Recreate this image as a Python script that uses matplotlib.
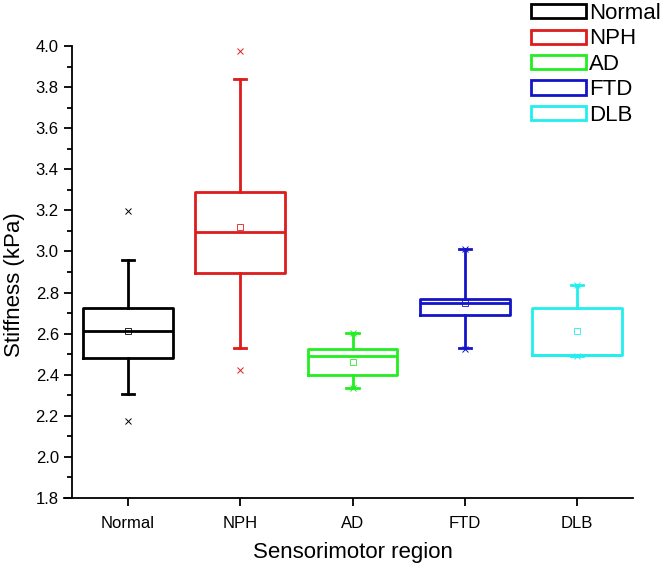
import matplotlib
matplotlib.use("Agg")
import matplotlib.pyplot as plt
from matplotlib.patches import Patch
from matplotlib.ticker import MultipleLocator

plt.rcParams['font.family'] = ['Liberation Sans', 'DejaVu Sans']

categories = ['Normal', 'NPH', 'AD', 'FTD', 'DLB']
colors = ['#000000', '#dd1c1c', '#22ee22', '#1414c8', '#22eeee']
q1 = [2.480, 2.897, 2.399, 2.691, 2.497]
med = [2.615, 3.095, 2.491, 2.748, 2.497]
q3 = [2.724, 3.291, 2.524, 2.767, 2.727]
whislo = [2.305, 2.532, 2.334, 2.529, 2.490]
whishi = [2.960, 3.838, 2.602, 3.012, 2.837]
means = [2.613, 3.119, 2.464, 2.750, 2.612]
mins = [2.177, 2.423, 2.334, 2.525, 2.490]
maxs = [3.196, 3.976, 2.602, 3.012, 2.837]

fig = plt.figure(figsize=(6.65, 5.68), dpi=100)
ax = fig.add_axes([72/665, 70/568, 561/665, 452/568])

for i, c in enumerate(categories):
    stats = [dict(med=med[i], q1=q1[i], q3=q3[i], whislo=whislo[i], whishi=whishi[i],
                  mean=means[i], fliers=[mins[i], maxs[i]], label=c)]
    ax.bxp(stats, positions=[i + 1], widths=0.8, capwidths=0.11,
           showmeans=True, showfliers=True,
           boxprops=dict(color=colors[i], linewidth=2),
           medianprops=dict(color=colors[i], linewidth=2),
           whiskerprops=dict(color=colors[i], linewidth=2),
           capprops=dict(color=colors[i], linewidth=2),
           meanprops=dict(marker='s', markersize=4, markerfacecolor='none',
                          markeredgecolor=colors[i], markeredgewidth=0.6),
           flierprops=dict(marker='x', markersize=4, markeredgecolor=colors[i],
                           markeredgewidth=0.7))

ax.set_xlim(0.5, 5.5)
ax.set_ylim(1.8, 4.0)
ax.set_xticks(range(1, 6))
ax.set_xticklabels(categories, fontsize=12)
ax.yaxis.set_major_locator(MultipleLocator(0.2))
ax.yaxis.set_minor_locator(MultipleLocator(0.1))
ax.yaxis.set_major_formatter(matplotlib.ticker.FormatStrFormatter('%.1f'))
ax.tick_params(axis='y', which='major', length=6, width=1.3, labelsize=12, direction='out')
ax.tick_params(axis='y', which='minor', length=3.5, width=1.3, direction='out')
ax.tick_params(axis='x', which='major', length=6, width=1.3, labelsize=12, direction='out', pad=7)
for s in ['top', 'right']:
    ax.spines[s].set_visible(False)
for s in ['left', 'bottom']:
    ax.spines[s].set_linewidth(1.3)
ax.plot([-0.015, 0], [0, 0], transform=ax.transAxes, color='black', lw=1.3, clip_on=False)

ax.set_ylabel('Stiffness (kPa)', fontsize=16)
ax.yaxis.set_label_coords(-0.083, 0.471)
ax.set_xlabel('Sensorimotor region', fontsize=16, labelpad=8)

handles = [Patch(facecolor='white', edgecolor=col, linewidth=2) for col in colors]
fig.legend(handles, categories, loc='upper left', bbox_to_anchor=(531/665, 1 - 3/568),
           frameon=False, fontsize=16, handlelength=2.48, handleheight=0.6,
           labelspacing=0.2, handletextpad=0.15, borderpad=0, borderaxespad=0)

fig.savefig('out.png', dpi=100)
